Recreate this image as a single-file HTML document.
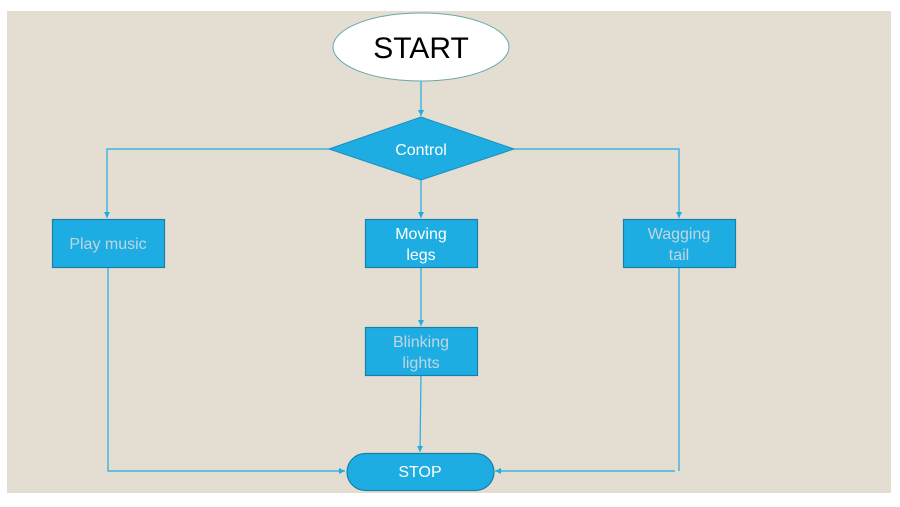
<!DOCTYPE html>
<html><head><meta charset="utf-8"><style>
html,body{margin:0;padding:0;background:#fff;width:900px;height:507px;overflow:hidden}
svg{display:block}
text{font-family:"Liberation Sans",sans-serif}
</style></head><body>
<svg width="900" height="507" viewBox="0 0 900 507" xmlns="http://www.w3.org/2000/svg">
<defs>
<marker id="a" markerWidth="8" markerHeight="8" refX="6" refY="4" orient="auto" markerUnits="userSpaceOnUse">
<path d="M0,1 L6,4 L0,7 z" fill="#1eade2"/></marker>
</defs>
<rect x="7" y="11" width="884" height="482" fill="#e3ddd2"/>
<g stroke="#1eade2" stroke-width="1.2" fill="none">
<line x1="421" y1="81" x2="421" y2="116" marker-end="url(#a)"/>
<polyline points="329,149 107,149 107,218" marker-end="url(#a)"/>
<polyline points="514,149 679,149 679,218" marker-end="url(#a)"/>
<line x1="421" y1="180" x2="421" y2="218" marker-end="url(#a)"/>
<line x1="421" y1="267" x2="421" y2="326" marker-end="url(#a)"/>
<line x1="421" y1="375" x2="420" y2="452" marker-end="url(#a)"/>
<polyline points="108,267 108,471 345,471" marker-end="url(#a)"/>
<line x1="679" y1="267" x2="679" y2="471"/>
<line x1="675" y1="471" x2="495" y2="471" marker-end="url(#a)"/>
</g>
<ellipse cx="421" cy="47" rx="88" ry="34" fill="#fff" stroke="#6aa8a8" stroke-width="1"/>
<text x="421" y="58" font-size="30" text-anchor="middle" fill="#000">START</text>
<polygon points="329,149 421,117 514,149 421,180" fill="#1eade2" stroke="#1a8fc0"/>
<text x="421" y="155" font-size="16" text-anchor="middle" fill="#fff">Control</text>
<g fill="#1eade2" stroke="#1a7fa8" stroke-width="1.2">
<rect x="52.5" y="219.5" width="112" height="48"/>
<rect x="365.5" y="219.5" width="112" height="48"/>
<rect x="623.5" y="219.5" width="112" height="48"/>
<rect x="365.5" y="327.5" width="112" height="48"/>
<rect x="347" y="453.5" width="147" height="37" rx="18.5"/>
</g>
<g font-size="16" text-anchor="middle">
<text x="108" y="249" fill="#bfd6e2">Play music</text>
<text x="421" y="239" fill="#fff">Moving</text>
<text x="421" y="260" fill="#fff">legs</text>
<text x="679" y="239" fill="#bfd6e2">Wagging</text>
<text x="679" y="260" fill="#bfd6e2">tail</text>
<text x="421" y="347" fill="#bfd6e2">Blinking</text>
<text x="421" y="368" fill="#bfd6e2">lights</text>
<text x="420" y="477" fill="#fff">STOP</text>
</g>
</svg>
</body></html>
